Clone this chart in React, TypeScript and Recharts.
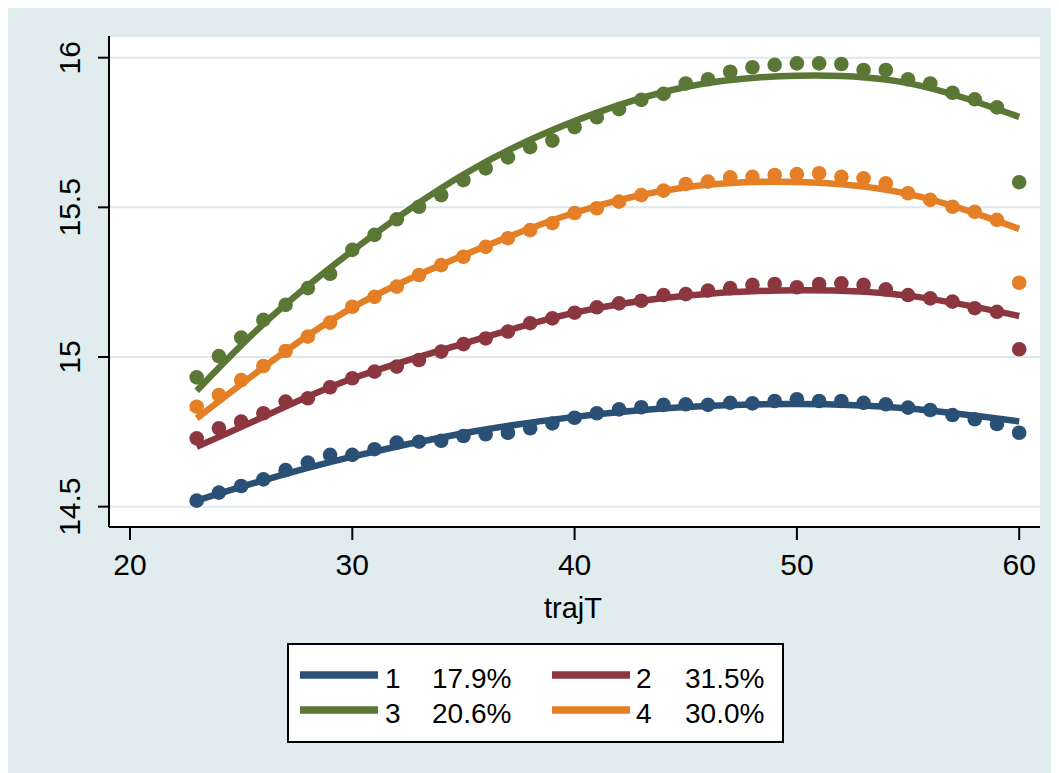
import React from 'react';
import { ComposedChart, XAxis, YAxis, CartesianGrid, Scatter, Line, Label } from 'recharts';

// ---------- data ----------
const ages = [23, 24, 25, 26, 27, 28, 29, 30, 31, 32, 33, 34, 35, 36, 37, 38, 39, 40, 41,
  42, 43, 44, 45, 46, 47, 48, 49, 50, 51, 52, 53, 54, 55, 56, 57, 58, 59, 60];

const obs1 = [14.520, 14.547, 14.569, 14.591, 14.622, 14.647, 14.673, 14.673, 14.692, 14.714,
  14.717, 14.720, 14.736, 14.742, 14.747, 14.762, 14.778, 14.797, 14.812, 14.825, 14.832,
  14.840, 14.842, 14.840, 14.847, 14.845, 14.853, 14.859, 14.853, 14.853, 14.847, 14.842,
  14.831, 14.823, 14.806, 14.792, 14.776, 14.747];
const obs2 = [14.728, 14.762, 14.784, 14.812, 14.851, 14.862, 14.899, 14.929, 14.951, 14.968,
  14.990, 15.018, 15.043, 15.062, 15.085, 15.113, 15.129, 15.148, 15.166, 15.179, 15.188,
  15.207, 15.210, 15.222, 15.230, 15.241, 15.244, 15.233, 15.244, 15.246, 15.241, 15.226,
  15.207, 15.196, 15.185, 15.163, 15.151, 15.026];
const obs3 = [14.932, 15.003, 15.065, 15.124, 15.174, 15.230, 15.278, 15.358, 15.408, 15.460,
  15.502, 15.541, 15.591, 15.630, 15.667, 15.701, 15.723, 15.768, 15.801, 15.828, 15.859,
  15.879, 15.914, 15.928, 15.953, 15.968, 15.976, 15.981, 15.981, 15.979, 15.959, 15.959,
  15.928, 15.914, 15.883, 15.861, 15.834, 15.584];
const obs4 = [14.834, 14.873, 14.923, 14.970, 15.020, 15.068, 15.115, 15.168, 15.201, 15.235,
  15.274, 15.307, 15.335, 15.368, 15.397, 15.424, 15.447, 15.481, 15.497, 15.519, 15.541,
  15.556, 15.578, 15.586, 15.600, 15.602, 15.608, 15.611, 15.614, 15.602, 15.597, 15.580,
  15.547, 15.525, 15.502, 15.485, 15.458, 15.248];

const fitAges = [23, 26, 30, 35, 40, 45, 50, 55, 60];
const fit1 = [14.520, 14.588, 14.667, 14.745, 14.800, 14.833, 14.843, 14.828, 14.785];
const fit2 = [14.700, 14.800, 14.928, 15.045, 15.148, 15.205, 15.223, 15.205, 15.137];
const fit3 = [14.887, 15.110, 15.355, 15.610, 15.788, 15.902, 15.940, 15.915, 15.802];
const fit4 = [14.795, 14.965, 15.165, 15.340, 15.482, 15.567, 15.585, 15.545, 15.428];

const groupIds = ['1', '2', '3', '4'];
const groupShares = ['17.9%', '31.5%', '20.6%', '30.0%'];
const groupColors = ['#2a5075', '#8c3740', '#5a7736', '#e57f25'];

const xTicks = [20, 30, 40, 50, 60];
const yTicks = [14.5, 15, 15.5, 16];
const xTitle = 'trajT';

// ---------- derived tables ----------
const obsSeries = [obs1, obs2, obs3, obs4];
const fitSeries = [fit1, fit2, fit3, fit4];
const rows = ages.map((x, i) => ({ x, p1: obs1[i], p2: obs2[i], p3: obs3[i], p4: obs4[i] }));
const fitTables = fitSeries.map((s) => fitAges.map((x, i) => ({ x, y: s[i] })));

// ---------- layout ----------
const W = 1051;
const H = 765;
const BG = '#e1ecef';
const GRID = '#dde8eb';
const FONT = '"Liberation Sans", Arial, Helvetica, sans-serif';
const PLOT_BOTTOM = 519;

const XTick = (props: any) => {
  const { x, payload } = props;
  return (
    <text x={x} y={PLOT_BOTTOM + 48} textAnchor="middle" fontSize={30} fontFamily={FONT} fill="#000">
      {payload.value}
    </text>
  );
};

const YTick = (props: any) => {
  const { y, payload } = props;
  const cx = 62;
  return (
    <text
      x={cx}
      y={y}
      transform={`rotate(-90, ${cx}, ${y})`}
      textAnchor="middle"
      dominantBaseline="central"
      fontSize={30}
      fontFamily={FONT}
      fill="#000"
    >
      {payload.value}
    </text>
  );
};

const makeDot = (color: string) => (p: any) => {
  if (p.cx == null || p.cy == null) return <g />;
  return <circle cx={p.cx} cy={p.cy} r={7.3} fill={color} />;
};

const LegendBox = () => {
  const cols = [
    { sw: 292, id: 377, pct: 424 },
    { sw: 544, id: 628, pct: 677 },
  ];
  const rowsY = [680, 715];
  return (
    <svg width={W} height={H} style={{ position: 'absolute', left: 0, top: 0, pointerEvents: 'none' }}>
      <rect x={280} y={636} width={495} height={98} fill="#fff" stroke="#000" strokeWidth={2} />
      {groupIds.map((id, i) => {
        const c = cols[i % 2];
        const by = rowsY[Math.floor(i / 2)];
        return (
          <g key={id}>
            <line x1={c.sw} x2={c.sw + 78} y1={by - 13} y2={by - 13} stroke={groupColors[i]} strokeWidth={7.5} />
            <text x={c.id} y={by} fontSize={28} fontFamily={FONT} fill="#000">{id}</text>
            <text x={c.pct} y={by} fontSize={28} fontFamily={FONT} fill="#000">{groupShares[i]}</text>
          </g>
        );
      })}
    </svg>
  );
};

export default function App() {
  return (
    <div style={{ position: 'relative', width: W, height: H, background: BG }}>
      <ComposedChart
        width={W}
        height={H}
        data={rows}
        margin={{ top: 28, right: 19, bottom: 206, left: 41 }}
      >
        <CartesianGrid vertical={false} stroke={GRID} strokeWidth={2} fill="#ffffff" fillOpacity={1} />
        <XAxis
          type="number"
          dataKey="x"
          domain={[19.055, 60.936]}
          ticks={xTicks}
          allowDataOverflow
          height={40}
          axisLine={{ stroke: '#000', strokeWidth: 2 }}
          tickLine={{ stroke: '#000', strokeWidth: 2 }}
          tickSize={13}
          tick={XTick}
          interval={0}
        >
          <Label
            content={() => (
              <text x={565} y={610} textAnchor="middle" fontSize={29} fontFamily={FONT} fill="#000">
                {xTitle}
              </text>
            )}
          />
        </XAxis>
        <YAxis
          type="number"
          domain={[14.432, 16.0725]}
          ticks={yTicks}
          allowDataOverflow
          width={60}
          axisLine={{ stroke: '#000', strokeWidth: 2 }}
          tickLine={{ stroke: '#000', strokeWidth: 2 }}
          tickSize={11}
          tick={YTick}
          interval={0}
        />
        {obsSeries.map((_, i) => (
          <Scatter
            key={`obs${i}`}
            dataKey={`p${i + 1}`}
            fill={groupColors[i]}
            shape={makeDot(groupColors[i])}
            isAnimationActive={false}
          />
        ))}
        {fitTables.map((t, i) => (
          <Line
            key={`fit${i}`}
            data={t}
            dataKey="y"
            type="natural"
            stroke={groupColors[i]}
            strokeWidth={6.5}
            dot={false}
            activeDot={false}
            isAnimationActive={false}
          />
        ))}
      </ComposedChart>
      <LegendBox />
    </div>
  );
}
